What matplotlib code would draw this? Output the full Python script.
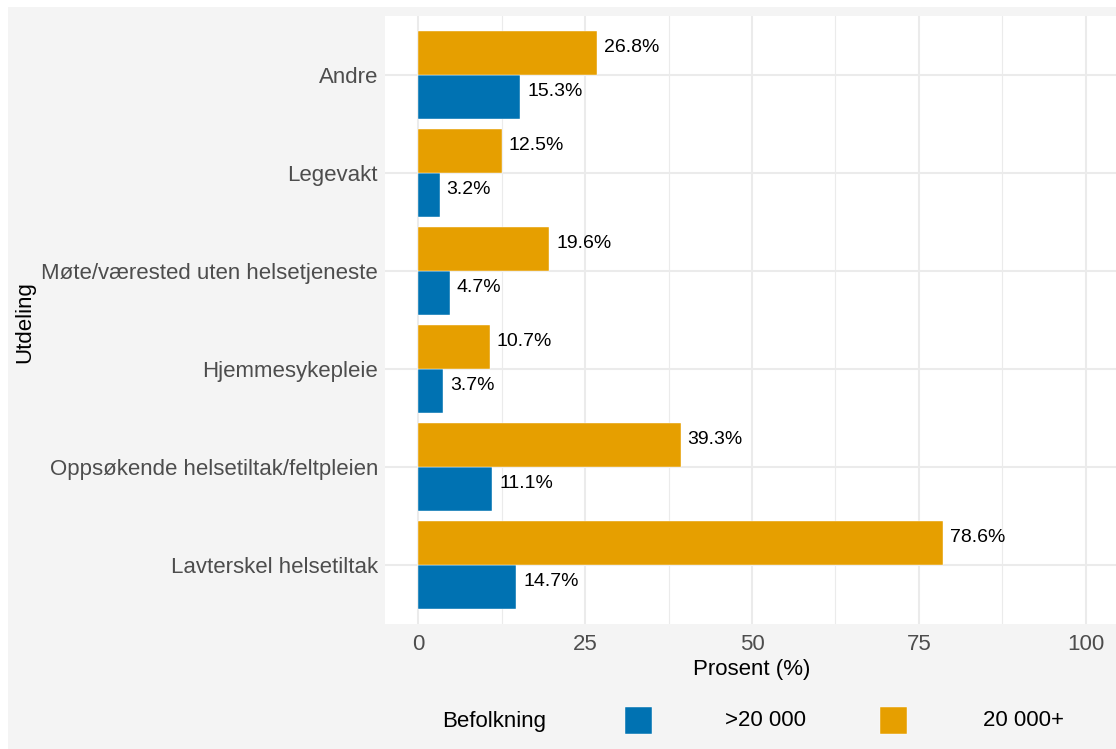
import matplotlib.pyplot as plt
import numpy as np
from matplotlib.patches import Rectangle

plt.rcParams["font.family"] = ["Liberation Sans", "DejaVu Sans"]

# bottom-to-top order on the y axis
categories = [
    "Lavterskel helsetiltak",
    "Oppsøkende helsetiltak/feltpleien",
    "Hjemmesykepleie",
    "Møte/værested uten helsetjeneste",
    "Legevakt",
    "Andre",
]
small_pop = [14.7, 11.1, 3.7, 4.7, 3.2, 15.3]     # ">20 000"
large_pop = [78.6, 39.3, 10.7, 19.6, 12.5, 26.8]  # "20 000+"
series_labels = [">20 000", "20 000+"]
x_ticks = [0, 25, 50, 75, 100]

BLUE = "#0072B2"
ORANGE = "#E69F00"
GRID = "#ebebeb"
BG = "#f4f4f4"

W, H = 1116, 749
fig = plt.figure(figsize=(W / 100, H / 100), dpi=100)
fig.patches.append(Rectangle((8 / W, 0), 1, 742 / H, transform=fig.transFigure,
                             facecolor=BG, edgecolor="none", zorder=-10))

ax = fig.add_axes([385 / W, 125 / H, 734 / W, 608 / H])
ax.set_facecolor("white")

y = np.arange(len(categories))
h = 0.45
ax.barh(y - h / 2, small_pop, height=h, color=BLUE, edgecolor="white", linewidth=0.3, zorder=3)
ax.barh(y + h / 2, large_pop, height=h, color=ORANGE, edgecolor="white", linewidth=0.3, zorder=3)

# value labels sit a little above the bar centre, like in the original
for yi, v in zip(y, small_pop):
    ax.annotate(f"{v:.1f}%", (v, yi - h / 2), xytext=(5, 4), textcoords="offset points",
                va="center", ha="left", fontsize=14, color="black")
for yi, v in zip(y, large_pop):
    ax.annotate(f"{v:.1f}%", (v, yi + h / 2), xytext=(5, 4), textcoords="offset points",
                va="center", ha="left", fontsize=14, color="black")

ax.set_xlim(-5, 105)
ax.set_ylim(-0.6, len(categories) - 0.4)
ax.set_xticks(x_ticks)
ax.set_xticks([12.5, 37.5, 62.5, 87.5], minor=True)
ax.set_yticks(y)
ax.set_yticklabels(categories)
ax.grid(True, which="major", color=GRID, linewidth=1.5, zorder=0)
ax.grid(True, which="minor", axis="x", color=GRID, linewidth=0.8, zorder=0)
ax.tick_params(which="both", length=0, labelsize=16, labelcolor="#4d4d4d")
ax.tick_params(axis="y", pad=5)
ax.tick_params(axis="x", pad=7)
for s in ax.spines.values():
    s.set_visible(False)

ax.set_xlabel("Prosent (%)", fontsize=16, labelpad=3)
fig.text(25 / W, 1 - 322 / H, "Utdeling", rotation=90, fontsize=16,
         ha="center", va="center")

# legend, laid out like the ggplot bottom legend
ly = 1 - 721 / H
fig.text(442 / W, ly, "Befolkning", fontsize=16, ha="left", va="center")
for x0, col, lab, tx in [(625, BLUE, series_labels[0], 725), (880, ORANGE, series_labels[1], 983)]:
    fig.patches.append(Rectangle((x0 / W, 1 - 734 / H), 27 / W, 27 / H, transform=fig.transFigure,
                                 facecolor=col, edgecolor="white", linewidth=0.3))
    fig.text(tx / W, ly, lab, fontsize=16, ha="left", va="center")

fig.savefig("out.png", dpi=100)
